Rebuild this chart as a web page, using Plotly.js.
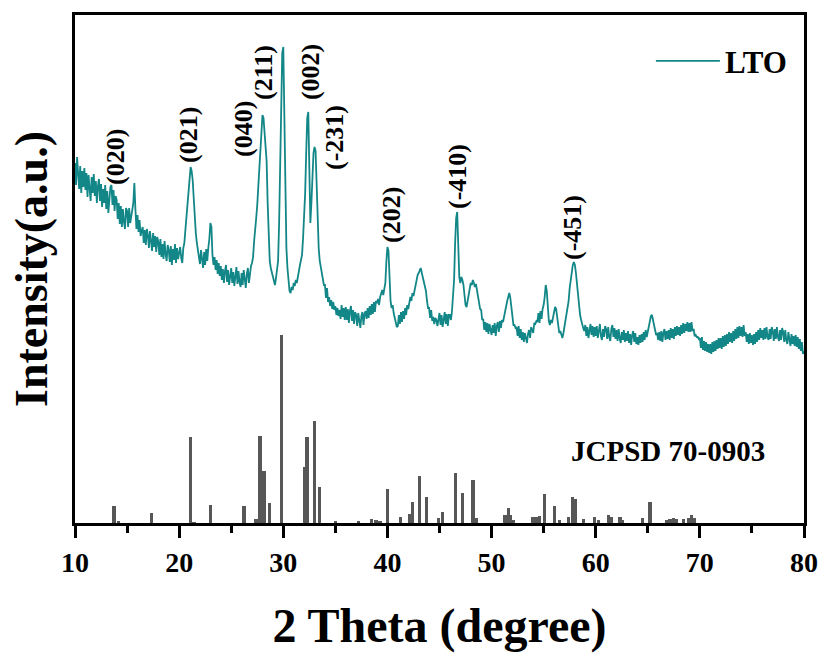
<!DOCTYPE html>
<html>
<head>
<meta charset="utf-8">
<script src="https://cdn.plot.ly/plotly-3.0.1.min.js"></script>
<style>
html,body{margin:0;padding:0;background:#fff;}
#chart{width:826px;height:653px;}
</style>
</head>
<body>
<div id="chart"></div>
<script>
const ltoStart = 10.0;
const ltoStep = 0.1;
const ltoIntensity = [
360,338,366,342,334,357,330,352,336,355,
333,350,326,348,335,322,346,330,349,327,
342,320,337,344,322,339,316,334,320,338,
314,332,310,328,336,338,318,333,312,327,
323,304,320,299,317,296,314,301,294,315,
312,296,315,300,309,313,320,340,314,294,
308,291,303,287,292,296,280,293,278,294,
288,275,292,278,272,290,276,287,271,286,
281,268,284,266,279,264,282,269,262,278,
273,261,277,258,274,263,279,260,275,264,
269,276,265,260,275,280,293,305,318,332,
345,356,352,343,325,305,290,280,272,268,
259,273,261,255,271,258,274,262,275,284,
300,296,268,258,266,253,263,249,260,247,
257,243,254,240,252,258,241,253,238,250,
255,240,251,237,249,256,239,252,241,236,
250,238,253,241,235,249,255,240,252,257,
260,266,282,300,305,318,336,355,375,395,
408,405,392,378,362,320,290,262,255,250,
246,242,238,245,255,262,300,350,420,470,
476,400,330,275,255,240,232,230,236,233,
240,237,243,240,248,252,258,262,268,285,
305,330,370,405,411,340,300,320,352,370,
376,372,340,298,275,262,255,250,246,238,
238,225,235,221,226,217,223,214,221,213,
217,208,215,207,213,204,218,206,215,203,
216,203,214,200,212,217,202,213,199,211,
208,197,210,199,195,207,211,198,209,212,
204,215,205,217,208,219,209,221,211,222,
220,224,218,226,230,233,228,236,240,262,
276,272,240,222,215,218,210,205,198,196,
197,208,199,211,201,212,204,215,208,218,
214,221,226,222,230,227,233,236,242,248,
250,253,255,250,246,240,238,232,222,215,
215,205,213,202,206,199,205,203,197,207,
210,198,208,196,207,211,199,209,197,208,
208,203,212,225,243,280,305,311,270,246,
240,246,243,238,228,218,216,222,230,236,
240,238,243,240,236,239,232,226,218,214,
213,203,204,193,201,191,200,189,199,193,
188,198,190,200,187,197,201,191,202,195,
203,201,207,212,218,222,226,230,225,214,
207,198,198,195,196,187,197,185,194,183,
191,181,190,183,180,189,193,185,196,193,
190,200,199,202,201,210,200,212,204,214,
218,226,238,232,212,202,198,203,200,206,
212,216,214,205,196,190,192,187,185,190,
196,200,206,212,222,235,245,252,258,261,
258,250,238,224,214,208,203,198,195,192,
198,187,196,185,195,199,188,197,186,196,
187,197,185,195,199,187,183,194,186,197,
194,184,196,186,182,194,198,186,195,184,
193,182,194,185,180,191,183,193,181,190,
182,192,180,189,178,188,192,181,190,179,
186,178,188,180,189,181,191,183,193,186,
192,198,204,207,208,203,196,192,188,190,
183,191,182,192,181,190,194,183,192,184,
193,183,195,185,194,184,196,187,197,188,
196,187,198,189,200,190,199,192,201,191,
200,191,201,192,194,187,188,186,186,184,
185,175,186,173,182,172,181,171,179,170,
179,169,181,171,182,172,183,174,185,175,
185,174,187,176,188,177,189,179,191,181,
190,180,192,182,194,184,196,185,197,187,
196,186,198,187,191,181,189,179,190,180,
188,178,189,179,191,181,193,183,195,185,
193,183,195,184,196,186,183,194,184,196,
192,182,194,184,196,186,182,193,183,195,
191,181,193,183,179,191,181,177,189,179,
187,177,188,176,186,174,184,172,181,169,
172
];
const ltoTheta = ltoIntensity.map((_, i) => +(ltoStart + i * ltoStep).toFixed(1));

// JCPDS 70-0903 reference sticks
const refTheta = [13.74,14.16,17.36,21.11,21.43,23.03,26.23,27.38,27.76,28.15,28.66,29.81,
  32.09,32.28,33.02,33.46,35.0,37.24,38.49,38.90,39.29,39.99,41.27,42.10,42.43,43.06,43.77,
  44.92,45.31,46.56,47.23,48.22,48.51,51.29,51.61,51.84,52.06,53.95,54.27,54.59,55.07,56.02,
  56.50,57.37,57.79,58.08,58.81,59.87,60.25,61.21,61.47,62.33,62.59,64.51,65.21,66.82,67.13,
  67.45,67.78,68.41,68.89,69.22,69.44];
const refIntensity = [17,2,10,86,1,18,17,4,87,52,20,188,
  56,86,102,36,2,2,4,3,2,34,6,9,21,47,26,
  5,11,50,30,43,5,8,15,8,3,6,6,7,29,17,
  3,6,26,24,4,6,3,8,6,6,3,5,21,3,4,
  5,4,4,5,8,5];

// Miller index labels
const hklText = ['(020)','(021)','(040)','(211)','(002)','(-231)','(202)','(-410)','(-451)'];
const hklTheta = [13.84,20.85,26.13,28.05,32.57,34.87,40.34,46.68,57.72];
const hklY = [366,388,394,451,451,385,308,346,296];

const FONT = 'Liberation Serif, Times New Roman, serif';

const traces = [
  {
    type: 'bar',
    x: refTheta,
    y: refIntensity,
    width: 0.3,
    marker: {color: '#575757', line: {width: 0}},
    showlegend: false,
    hoverinfo: 'x+y'
  },
  {
    type: 'scatter',
    mode: 'lines',
    name: 'LTO',
    x: ltoTheta,
    y: ltoIntensity,
    line: {color: '#138787', width: 1.8}
  }
];

const annotations = hklText.map((t, i) => ({
  x: hklTheta[i], y: hklY[i], xref: 'x', yref: 'y',
  text: t, showarrow: false, textangle: -90,
  font: {family: FONT, size: 26, color: '#000', weight: 'bold'}
}));
annotations.push({
  x: 66.94, y: 72, xref: 'x', yref: 'y',
  text: 'JCPSD 70-0903', showarrow: false,
  font: {family: FONT, size: 29, color: '#000', weight: 'bold'}
});

const layout = {
  width: 826, height: 653,
  margin: {l: 75, r: 22, t: 15, b: 130},
  paper_bgcolor: '#fff', plot_bgcolor: '#fff',
  font: {family: FONT, color: '#000'},
  showlegend: true,
  legend: {
    x: 0.79, y: 0.962, xanchor: 'left', yanchor: 'top',
    itemwidth: 64,
    bgcolor: 'rgba(0,0,0,0)',
    font: {family: FONT, size: 31, color: '#000', weight: 'bold'}
  },
  xaxis: {
    range: [10, 80], tick0: 10, dtick: 10,
    ticks: 'outside', ticklen: 12, tickwidth: 3, tickcolor: '#000',
    minor: {dtick: 5, ticks: 'outside', ticklen: 7, tickwidth: 3, tickcolor: '#000', showgrid: false},
    showline: true, linewidth: 3, linecolor: '#000', mirror: true,
    showgrid: false, zeroline: false,
    tickfont: {family: FONT, size: 28, color: '#000', weight: 'bold'},
    title: {text: '2 Theta (degree)', standoff: 34,
      font: {family: FONT, size: 48, color: '#000', weight: 'bold'}}
  },
  yaxis: {
    range: [0, 508],
    showticklabels: false, ticks: '',
    showline: true, linewidth: 3, linecolor: '#000', mirror: true,
    showgrid: false, zeroline: false,
    title: {text: 'Intensity(a.u.)', standoff: 10,
      font: {family: FONT, size: 46, color: '#000', weight: 'bold'}}
  },
  bargap: 0,
  annotations: annotations
};

Plotly.newPlot('chart', traces, layout, {displayModeBar: false, staticPlot: true});
</script>
</body>
</html>
